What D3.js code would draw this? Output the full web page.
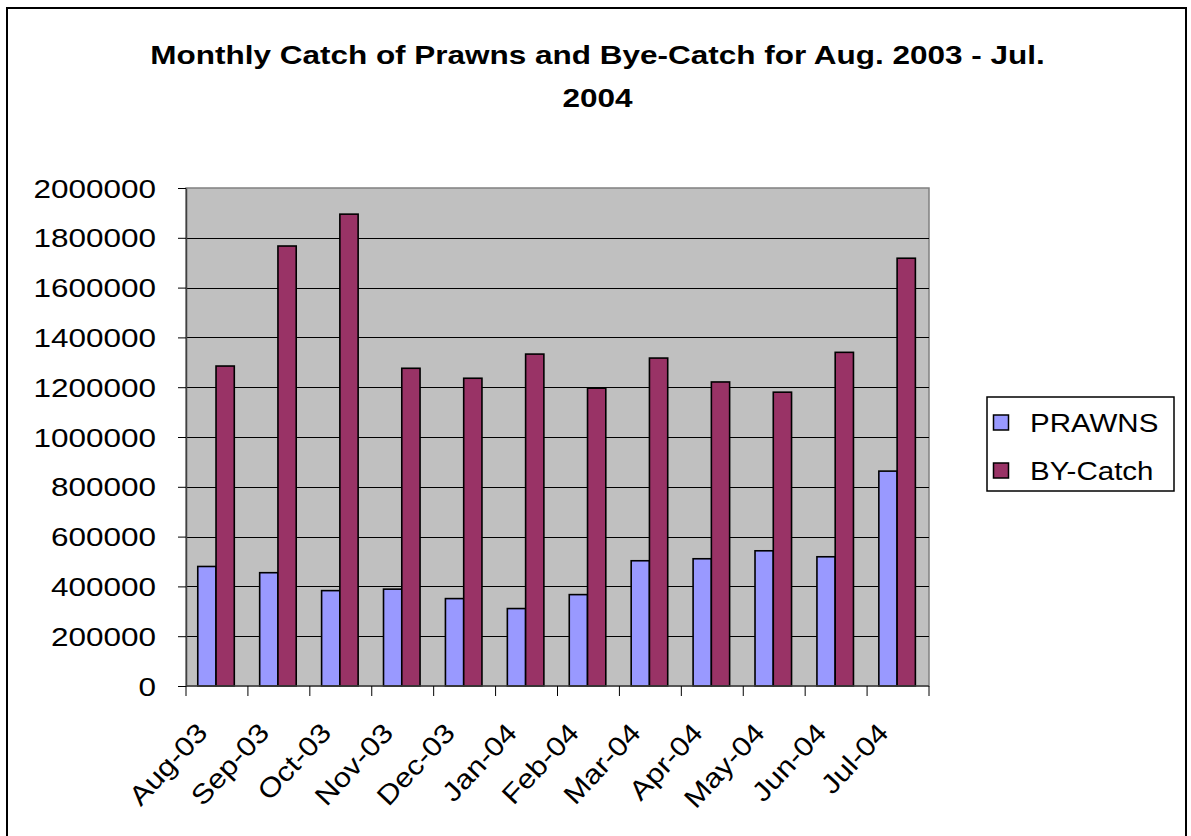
<!DOCTYPE html>
<html>
<head>
<meta charset="utf-8">
<script src="https://cdn.jsdelivr.net/npm/d3@7"></script>
<style>
  html, body { margin: 0; padding: 0; background: #fff; }
  svg { display: block; }
  text { font-family: "Liberation Sans", Arial, Helvetica, sans-serif; fill: #000; }
</style>
</head>
<body>
<svg id="chart" width="1191" height="836"></svg>
<script>
const months = ["Aug-03","Sep-03","Oct-03","Nov-03","Dec-03","Jan-04","Feb-04","Mar-04","Apr-04","May-04","Jun-04","Jul-04"];
const seriesNames = ["PRAWNS","BY-Catch"];
const prawns  = [480000, 455000, 383000, 389000, 351000, 311000, 367000, 503000, 511000, 543000, 519000, 863000];
const byCatch = [1285000, 1767000, 1895000, 1276000, 1236000, 1333000, 1196000, 1317000, 1221000, 1180000, 1340000, 1718000];
const yTicks  = [0, 200000, 400000, 600000, 800000, 1000000, 1200000, 1400000, 1600000, 1800000, 2000000];
const titleLines = ["Monthly Catch of Prawns and Bye-Catch for Aug. 2003 - Jul.", "2004"];
const colors = ["#9999FF", "#993366"];

const svg = d3.select("#chart");
const W = 1191, H = 836;
const plot = {left: 186, right: 929, top: 188, bottom: 686};
const SX = 1.26;   // horizontal stretch of the reference's text

// outer chart border
svg.append("rect").attr("x", 7).attr("y", 8).attr("width", 1179).attr("height", 840)
  .attr("fill", "#fff").attr("stroke", "#000").attr("stroke-width", 2);

// title
titleLines.forEach((t, i) => {
  svg.append("text")
    .attr("transform", `translate(597.5,${[64,107][i]}) scale(${SX},1)`)
    .attr("text-anchor", "middle")
    .attr("font-weight", "bold").attr("font-size", 25)
    .text(t);
});

const x0 = d3.scaleBand().domain(months).range([plot.left, plot.right]).padding(0);
const bw = x0.bandwidth();
const x1 = d3.scaleBand().domain(seriesNames).range([bw * 0.19, bw * 0.78]).padding(0);
const y = d3.scaleLinear().domain([0, 2000000]).range([plot.bottom, plot.top]);

// plot background
svg.append("rect").attr("x", plot.left).attr("y", plot.top)
  .attr("width", plot.right - plot.left).attr("height", plot.bottom - plot.top)
  .attr("fill", "#C0C0C0").attr("stroke", "#808080").attr("stroke-width", 1.5);

// gridlines
svg.append("g").selectAll("line").data(yTicks.filter(d => d > 0 && d < 2000000)).join("line")
  .attr("x1", plot.left).attr("x2", plot.right)
  .attr("y1", d => Math.round(y(d)) + 0.5).attr("y2", d => Math.round(y(d)) + 0.5)
  .attr("stroke", "#000").attr("stroke-width", 1);

// bars
const data = months.map((m, i) => ({m, vals: [prawns[i], byCatch[i]]}));
const groups = svg.append("g").selectAll("g").data(data).join("g")
  .attr("transform", d => `translate(${x0(d.m)},0)`);
groups.selectAll("rect").data(d => d.vals.map((v, j) => ({s: seriesNames[j], v, j}))).join("rect")
  .attr("x", d => x1(d.s))
  .attr("width", x1.bandwidth())
  .attr("y", d => y(d.v))
  .attr("height", d => y(0) - y(d.v))
  .attr("fill", d => colors[d.j])
  .attr("stroke", "#000").attr("stroke-width", 1.6);

// y axis
const yAxis = d3.axisLeft(y).tickValues(yTicks).tickSize(8).tickSizeOuter(0).tickFormat(d3.format("d"));
const gy = svg.append("g").attr("transform", `translate(${plot.left},0)`).call(yAxis);
gy.select(".domain").attr("stroke", "#404040").attr("stroke-width", 1.5);
gy.selectAll(".tick line").attr("stroke", "#000");
gy.selectAll(".tick text").remove();
gy.selectAll(".tick").append("text")
  .attr("transform", `translate(-30,9) scale(${SX},1)`)
  .attr("text-anchor", "end").attr("font-size", 25)
  .text(d => d3.format("d")(d));

// x axis: ticks at category boundaries
const gx = svg.append("g").attr("transform", `translate(0,${plot.bottom})`);
gx.append("line").attr("x1", plot.left).attr("x2", plot.right).attr("y1", 0).attr("y2", 0)
  .attr("stroke", "#404040").attr("stroke-width", 1.5);
const bounds = months.map(m => x0(m)).concat([x0(months[months.length - 1]) + bw]);
gx.selectAll("line.tk").data(bounds).join("line").attr("class", "tk")
  .attr("x1", d => d).attr("x2", d => d).attr("y1", 0).attr("y2", 10)
  .attr("stroke", "#000").attr("stroke-width", 1);
gx.selectAll("text").data(months).join("text")
  .attr("transform", d => `translate(${x0(d) + bw / 2 - 8},${48}) rotate(-47) scale(1.15,1)`)
  .attr("text-anchor", "end").attr("font-size", 27)
  .text(d => d);

// legend
const lg = svg.append("g");
lg.append("rect").attr("x", 987).attr("y", 397).attr("width", 187).attr("height", 94)
  .attr("fill", "#fff").attr("stroke", "#000").attr("stroke-width", 1.5);
seriesNames.forEach((s, i) => {
  const yy = [415, 463][i];
  lg.append("rect").attr("x", 993.5).attr("y", yy).attr("width", 15).attr("height", 15)
    .attr("fill", colors[i]).attr("stroke", "#000").attr("stroke-width", 1.5);
  lg.append("text").attr("transform", `translate(1030,${yy + 17}) scale(1.18,1)`)
    .attr("font-size", 25).text(s);
});
</script>
</body>
</html>
